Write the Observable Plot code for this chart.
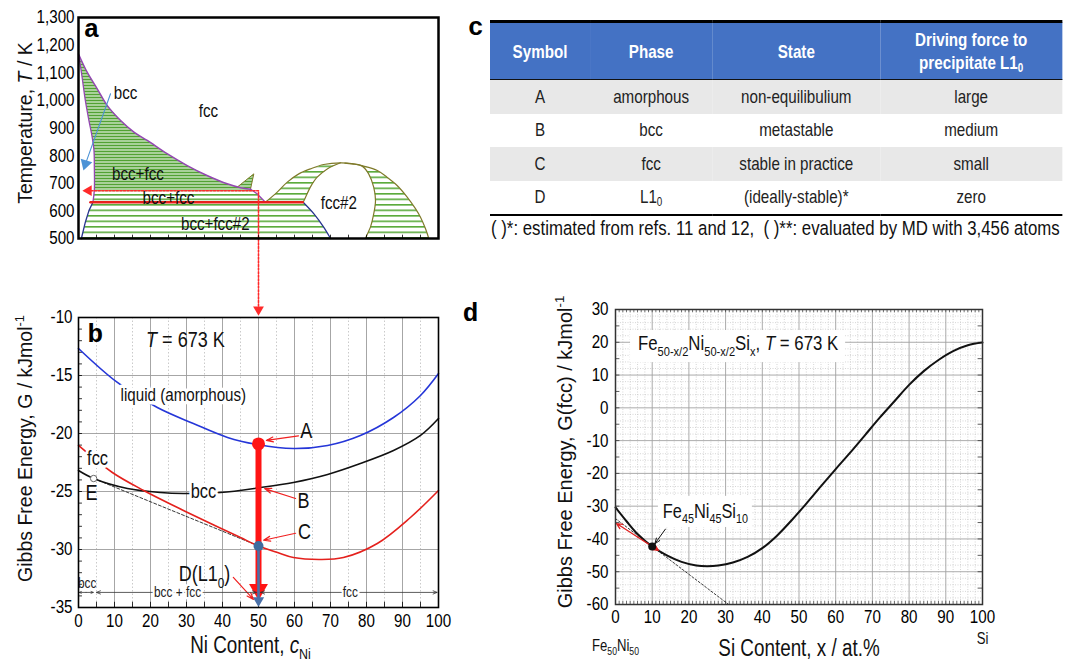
<!DOCTYPE html>
<html><head><meta charset="utf-8">
<script src="https://cdn.jsdelivr.net/npm/d3@7"></script>
<script src="https://cdn.jsdelivr.net/npm/@observablehq/plot@0.6"></script>
<style>
html,body{margin:0;padding:0;background:#fff;}
#fig{position:relative;width:1067px;height:663px;overflow:hidden;background:#fff;}
#fig svg{position:absolute;left:0;top:0;}
.tbl{position:absolute;left:490px;top:20px;width:697.6px;transform:scaleX(0.82);transform-origin:0 0;font-family:'Liberation Sans',Arial,sans-serif;font-size:18.5px;color:#222;}
.tbl table{border-collapse:collapse;width:100%;table-layout:fixed;}
.tbl th{background:#4472c4;color:#fff;font-weight:bold;height:56px;padding:0;line-height:23px;border-top:3px solid #000;border-bottom:1.5px solid #111;}
.tbl td{text-align:center;height:33.5px;padding:0;}
.tbl tr.g td{background:#e8e8e8;}
.tbl tr:last-child td{border-bottom:2.5px solid #000;}
.tbl sub{font-size:65%;vertical-align:-0.25em;line-height:0;}
.note{position:absolute;left:491px;top:216px;white-space:nowrap;transform:scaleX(0.82);transform-origin:0 0;font-family:'Liberation Sans',Arial,sans-serif;font-size:20.5px;line-height:24px;color:#111;}
.lab{position:absolute;font-family:'Liberation Mono','Courier New',monospace;font-weight:bold;font-size:26px;line-height:26px;}
</style></head>
<body><div id="fig"></div>
<script>
const W = 1067, H = 663;
const SANS = "'Liberation Sans',Arial,sans-serif";
const REG = "'Liberation Sans',Arial,sans-serif";
const MONO = "'Liberation Mono','Courier New',monospace";

// ---------------- Panel a: phase diagram  [Ni at.%, T / K] ----------------
const aTempTicks = [500, 600, 700, 800, 900, 1000, 1100, 1200, 1300];
const aBottomTicks = [5,10,15,20,25,30,35,40,45,50,55,60,65,70,75,80,85,90,95];
const aFccBoundary = [[0,1168],[2.4,1102],[5.2,1042],[8,981],[11.7,927],[15.4,885],[19.1,855],[24.6,807],[30.2,764],[35.7,728],[41.3,698],[45,684],[47.8,678]];
const aBccBoundary = [[0.1,1162],[1.0,1084],[1.9,1000],[2.9,927],[3.8,867],[4.3,819],[4.4,758],[4.4,675]];
const aBccLow = [[4.4,675],[4.0,631]];
const aDescent = [[47.8,678],[49.6,662],[51.9,631]];
const aLowerLeft = [[4.0,631],[2.9,601],[1.9,559],[0.8,500]];
const aLowerRight = [[62.4,631],[65.4,589],[68.1,541],[70,500]];
const aArchOuter = [[51.9,631],[55.2,668],[58,704],[61.2,734],[64.4,752],[68.1,768],[72.8,774],[76.5,770],[79.2,762],[83,746],[85.7,722],[88.5,692],[91.3,650],[93.6,608],[95,577],[96.4,535],[97.3,500]];
const aArchInnerLeft = [[72.8,774],[69.1,752],[66.3,722],[64.4,686],[63.1,650],[62.4,631]];
const aArchInnerRight = [[74,773],[76,770],[78.8,762],[80.6,734],[82,686],[82.5,638],[82,589],[81.1,541],[79.7,500]];
const aSpike = [[44.1,686],[48.7,734],[47.8,680]];
const aEutectoid = [[3.3,631],[62.3,631]];
const aIsotherm = [[3.5,673],[50,673],[50,252]];     // T = 673 K, continues down into panel b
const aHeadLeft = [[2.8,673]];
const aHeadDown = [[50,243]];
const aBlueArrow = [[8.9,1024],[1.94,770]];
const aBlueHead = [[1.94,770]];
const aLabels = [
  {x:13.1, y:1028, text:"bcc"},
  {x:36.1, y:960, text:"fcc"},
  {x:16.5, y:735, text:"bcc+fcc"},
  {x:25.0, y:648, text:"bcc+fcc"},
  {x:38.0, y:554, text:"bcc+fcc#2"},
  {x:72.3, y:627, text:"fcc#2"}
];

// ---------------- Panel b: Gibbs energy vs Ni  [Ni at.%, G / kJ mol-1] ----------------
const bXTicks = [0,10,20,30,40,50,60,70,80,90,100];
const bYTicks = [-35,-30,-25,-20,-15,-10];
const bLiquid = [[0,-12.67],[10.8,-15.6],[21.9,-17.76],[31.9,-19.14],[41.4,-20.34],[49.7,-20.95],[59.7,-21.29],[69.2,-21.03],[78.3,-20.17],[87.5,-18.62],[95,-16.72],[100,-14.83]];
const bBcc = [[0,-23.19],[4.2,-23.88],[13.6,-24.74],[22.8,-25.09],[29.2,-25.17],[39.4,-25.09],[50.6,-24.66],[59.7,-24.22],[69.2,-23.53],[78.3,-22.59],[87.5,-21.47],[95,-20.17],[100,-18.71]];
const bFcc = [[0,-21.03],[9.4,-23.36],[18.1,-24.91],[27.5,-26.38],[36.7,-27.76],[45,-28.97],[49.7,-29.66],[55.3,-30.26],[59.7,-30.69],[67.2,-30.86],[73.6,-30.69],[83,-29.48],[92.2,-27.24],[100,-24.91]];
const bTangent = [[4.2,-23.88],[48.5,-29.5]];
const bPointA = [[50,-20.9]];
const bPointC = [[50,-29.7]];
const bPointE = [[4.2,-23.88]];
const bRedBar = [[50,-20.9],[50,-33.2]];
const bRedHead = [[50,-33.45]];
const bBlueBar = [[50,-29.7],[50,-34.2]];
const bBlueHead = [[50,-34.4]];
const bCallouts = [
  {x1:61.1, y1:-20.2, x2:52.2, y2:-20.6},
  {x1:60.3, y1:-25.6, x2:51.7, y2:-24.75},
  {x1:60.3, y1:-28.6, x2:51.4, y2:-29.2},
  {x1:43.0, y1:-32.4, x2:48.6, y2:-34.3}
];
const bCalloutLabels = [
  {x:63.3, y:-19.75, text:"A"},
  {x:62.5, y:-25.85, text:"B"},
  {x:62.8, y:-28.45, text:"C"},
  {x:35.0, y:-32.15, text:"D(L1_{0})"}
];
const bRanges = [
  {x1:2.1, x2:0.2}, {x1:2.1, x2:4.1},
  {x1:27.5, x2:5.0}, {x1:27.5, x2:49.4},
  {x1:75.5, x2:50.6}, {x1:75.5, x2:99.6}
];
const bRangeG = -33.7;
const bRangeLabels = [{x:27.5, text:"bcc + fcc"}, {x:75.5, text:"fcc"}];

// ---------------- Panel d: G(fcc) vs Si  [Si at.%, G / kJ mol-1] ----------------
const dXTicks = [0,10,20,30,40,50,60,70,80,90,100];
const dYTicks = [-60,-50,-40,-30,-20,-10,0,10,20,30];
const dSi = [0,3,6,10,14,18,22,25,28,32,36,40,44,48,52,56,60,64,68,72,76,80,84,88,92,96,100];
const dG  = [-30.4,-34.6,-38.5,-42.3,-45.0,-47.0,-48.1,-48.3,-48.1,-47.2,-45.5,-42.8,-39.0,-34.3,-29.2,-23.9,-18.7,-13.6,-8.3,-3.0,2.0,7.0,11.2,14.6,17.3,19.1,19.9];
const dPoint = [[10,-42.3]];
const dTangentDotted = [[0,-33.8],[30.6,-59.8]];
const dRedArrows = [{x1:6.0, y1:-39.4, x2:0.3, y2:-35.3},{x1:6.0, y1:-39.4, x2:11.7, y2:-43.5}];
const dPointer = [{x1:13.6, y1:-37.0, x2:10.7, y2:-41.5}];

// ---------------- Panel c: table ----------------
const tHeader = ["Symbol", "Phase", "State", "Driving force to<br>precipitate L1<sub>0</sub>"];
const tSymbol = ["A", "B", "C", "D"];
const tPhase = ["amorphous", "bcc", "fcc", "L1<sub>0</sub>"];
const tState = ["non-equilibulium", "metastable", "stable in practice", "(ideally-stable)*"];
const tForce = ["large", "medium", "small", "zero"];
const tNote = "( )*: estimated from refs. 11 and 12,&nbsp; ( )**: evaluated by MD with 3,456 atoms";

// ---------------- helpers ----------------
const NS = "http://www.w3.org/2000/svg";
const P = {x: d => d[0], y: d => d[1]};
const rev = a => a.slice().reverse();
function richify(root) {
  root.querySelectorAll("text").forEach(t => {
    const s = t.textContent;
    if (!/[_^]\{|\*/.test(s)) return;
    const fs = parseFloat(getComputedStyle(t).fontSize) || 16;
    while (t.firstChild) t.removeChild(t.firstChild);
    let italic = false, shift = 0, buf = "", i = 0;
    const add = (str, mode) => {
      if (!str) return;
      const ts = document.createElementNS(NS, "tspan");
      const target = mode === "sub" ? 0.28 * fs : mode === "sup" ? -0.4 * fs : 0;
      if (target !== shift) { ts.setAttribute("dy", target - shift); shift = target; }
      if (mode) ts.setAttribute("font-size", 0.66 * fs);
      if (italic) ts.setAttribute("font-style", "italic");
      ts.textContent = str;
      t.appendChild(ts);
    };
    while (i < s.length) {
      const c = s[i];
      if ((c === "_" || c === "^") && s[i + 1] === "{") {
        add(buf, null); buf = "";
        const j = s.indexOf("}", i);
        add(s.slice(i + 2, j), c === "_" ? "sub" : "sup");
        i = j + 1;
      } else if (c === "*") { add(buf, null); buf = ""; italic = !italic; i++; }
      else { buf += c; i++; }
    }
    add(buf, null);
  });
}
// horizontally condense non-rotated text around its anchor x (the reference figure is squeezed horizontally)
function squeeze(root, k) {
  root.querySelectorAll("svg text").forEach(t => {
    const tr = t.getAttribute("transform") || "";
    const ptr = (t.parentNode.getAttribute && t.parentNode.getAttribute("transform")) || "";
    if ((tr + ptr).includes("rotate")) return;
    if (/Mono/i.test(getComputedStyle(t).fontFamily)) return;
    const xs = t.getAttribute("x") || "0";
    const X = /^-?[\d.]+(px)?$/.test(xs.trim()) ? parseFloat(xs) : 0;
    t.setAttribute("transform", (tr ? tr + " " : "") + "translate(" + X + ",0) scale(" + k + ",1) translate(" + (-X) + ",0)");
  });
}
function addPattern(svg, id, period, band, color) {
  let defs = svg.querySelector("defs");
  if (!defs) { defs = document.createElementNS(NS, "defs"); svg.insertBefore(defs, svg.firstChild); }
  const p = document.createElementNS(NS, "pattern");
  p.setAttribute("id", id); p.setAttribute("patternUnits", "userSpaceOnUse");
  p.setAttribute("width", 12); p.setAttribute("height", period);
  const r0 = document.createElementNS(NS, "rect");
  r0.setAttribute("width", 12); r0.setAttribute("height", period); r0.setAttribute("fill", "#fff");
  const r1 = document.createElementNS(NS, "rect");
  r1.setAttribute("width", 12); r1.setAttribute("height", band); r1.setAttribute("fill", color);
  p.appendChild(r0); p.appendChild(r1); defs.appendChild(p);
}
const baseStyle = {background: "transparent", fontFamily: SANS, fontSize: "18px", overflow: "visible", color: "#000"};
const fig = document.getElementById("fig");
const yTitle = {frameAnchor: "left", rotate: -90, textAnchor: "middle", lineAnchor: "middle", fontFamily: REG, fill: "#111"};
const xTitle = {frameAnchor: "bottom", textAnchor: "middle", lineAnchor: "middle", fill: "#111"};

// ---------------- Panel a ----------------
const purple = "#9447b3", navy = "#27348f", olive = "#7f7a2a", red = "#e8201c";
const polyUpper = [...aFccBoundary, [47.8, 675], ...rev(aBccBoundary)];
const polyMiddle = [[4.4, 675], [47.8, 675], ...aDescent.slice(1), [4.0, 631]];
const polyLower = [[4.0, 631], [62.4, 631], ...aLowerRight.slice(1), ...rev(aLowerLeft)];
const polyCrescent = [...aArchOuter.slice(0, 7), ...aArchInnerLeft.slice(1)];
const polyRight = [...aArchOuter.slice(6), ...rev(aArchInnerRight)];

const plotA = Plot.plot({
  width: W, height: H,
  marginLeft: 78, marginRight: W - 438, marginTop: 17, marginBottom: H - 238,
  x: {domain: [0, 100], axis: null},
  y: {domain: [500, 1300]},
  style: baseStyle,
  marks: [
    Plot.line(polyUpper, {...P, fill: "url(#hatchDense)", stroke: "none"}),
    Plot.line(polyMiddle, {...P, fill: "url(#hatchMid)", stroke: "none"}),
    Plot.line(polyLower, {...P, fill: "url(#hatchLow)", stroke: "none"}),
    Plot.line(polyCrescent, {...P, fill: "url(#hatchLow)", stroke: "none"}),
    Plot.line(polyRight, {...P, fill: "url(#hatchLow)", stroke: "none"}),
    Plot.line(aSpike, {...P, fill: "url(#hatchDense)", stroke: olive, strokeWidth: 1}),
    Plot.line(aFccBoundary, {...P, stroke: purple, strokeWidth: 1.5, curve: "catmull-rom"}),
    Plot.line([...aBccBoundary, ...aBccLow.slice(1)], {...P, stroke: purple, strokeWidth: 1.3, curve: "catmull-rom"}),
    Plot.line(aDescent, {...P, stroke: purple, strokeWidth: 1.3}),
    Plot.line(aLowerLeft, {...P, stroke: navy, strokeWidth: 1.3}),
    Plot.line(aLowerRight, {...P, stroke: navy, strokeWidth: 1.3, curve: "catmull-rom"}),
    Plot.line(aArchOuter, {...P, stroke: olive, strokeWidth: 1.2, curve: "catmull-rom"}),
    Plot.line(aArchInnerLeft, {...P, stroke: olive, strokeWidth: 1.2, curve: "catmull-rom"}),
    Plot.line(aArchInnerRight, {...P, stroke: olive, strokeWidth: 1.2, curve: "catmull-rom"}),
    Plot.line(aEutectoid, {...P, stroke: red, strokeWidth: 2.4}),
    Plot.line(aIsotherm, {...P, stroke: "#ff2a2a", strokeWidth: 1.6, strokeDasharray: "2,1.6"}),
    Plot.dot(aHeadLeft, {...P, symbol: "triangle", r: 4, fill: "#ff2a2a", rotate: -90}),
    Plot.dot(aHeadDown, {...P, symbol: "triangle", r: 4, fill: "#ff2a2a", rotate: 180}),
    Plot.line(aBlueArrow, {...P, stroke: "#4d93d6", strokeWidth: 1.1}),
    Plot.dot(aBlueHead, {...P, symbol: "triangle", r: 4.5, fill: "#4d93d6", rotate: 197}),
    Plot.text(aLabels, {x: "x", y: "y", text: "text", fontSize: 18.5, fill: "#111"}),
    Plot.ruleX(aBottomTicks, {x: d => d, y1: 500, y2: 512, stroke: "#000", strokeWidth: 0.8}),
    Plot.text(["a"], {x: 3.6, y: 1260, fontFamily: MONO, fontWeight: "bold", fontSize: 26}),
    Plot.axisY({ticks: aTempTicks, tickFormat: d3.format(","), tickSize: 0, tickPadding: 4, fontSize: 18.5, label: null}),
    Plot.text(["Temperature, *T* / K"], {...yTitle, dx: -53, dy: -5, fontSize: 19.5}),
    Plot.frame({stroke: "#000", strokeWidth: 2.5})
  ]
});
addPattern(plotA, "hatchDense", 3, 2, "#52a233");
addPattern(plotA, "hatchMid", 4.5, 1.6, "#5aaa3a");
addPattern(plotA, "hatchLow", 5.5, 1.6, "#5aaa3a");
fig.appendChild(plotA);

// ---------------- Panel b ----------------
const blue = "#2536d8", redB = "#e4211d";
const plotB = Plot.plot({
  width: W, height: H,
  marginLeft: 78, marginRight: W - 438, marginTop: 317, marginBottom: H - 607,
  x: {domain: [0, 100]},
  y: {domain: [-35, -10]},
  style: baseStyle,
  marks: [
    Plot.ruleX(d3.range(5, 100, 10), {x: d => d, stroke: "#bdbdbd", strokeWidth: 0.8, strokeDasharray: "1.5,2"}),
    Plot.ruleX(bXTicks.slice(1, -1), {x: d => d, stroke: "#9c9c9c", strokeWidth: 0.9}),
    Plot.ruleY(bYTicks.slice(1, -1), {y: d => d, stroke: "#9c9c9c", strokeWidth: 0.9}),
    Plot.ruleY(d3.range(-34, -10, 1), {y: d => d, x1: 0, x2: 1.1, stroke: "#000", strokeWidth: 0.8}),
    Plot.ruleX(d3.range(5, 100, 5), {x: d => d, y1: -35, y2: -34.55, stroke: "#000", strokeWidth: 0.8}),
    Plot.line(bTangent, {...P, stroke: "#222", strokeWidth: 0.9, strokeDasharray: "3,2"}),
    Plot.line(bLiquid, {...P, stroke: blue, strokeWidth: 1.6, curve: "catmull-rom"}),
    Plot.line(bBcc, {...P, stroke: "#111", strokeWidth: 1.6, curve: "catmull-rom"}),
    Plot.line(bFcc, {...P, stroke: redB, strokeWidth: 1.6, curve: "catmull-rom"}),
    Plot.text(["liquid (amorphous)"], {x: 11.7, y: -16.72, textAnchor: "start", fontSize: 18.5, stroke: "#fff", strokeWidth: 7, paintOrder: "stroke", fill: "#111"}),
    Plot.text(["bcc"], {x: 34.7, y: -25.0, fontSize: 20, stroke: "#fff", strokeWidth: 6, paintOrder: "stroke", fill: "#111"}),
    Plot.text(["fcc"], {x: 5.3, y: -22.2, fontSize: 20, stroke: "#fff", strokeWidth: 6, paintOrder: "stroke", fill: "#111"}),
    Plot.dot(bPointE, {...P, r: 3.2, fill: "#fff", stroke: "#666", strokeWidth: 1}),
    Plot.text(["E"], {x: 3.6, y: -25.15, fontSize: 22, fill: "#111"}),
    Plot.line(bRedBar, {...P, stroke: "#ff1414", strokeWidth: 6}),
    Plot.dot(bRedHead, {...P, symbol: "triangle", r: 7, fill: "#ff1414", rotate: 180}),
    Plot.line(bBlueBar, {...P, stroke: "#4a70a8", strokeWidth: 2.6}),
    Plot.dot(bBlueHead, {...P, symbol: "triangle", r: 4.2, fill: "#4a70a8", rotate: 180}),
    Plot.dot(bPointA, {...P, r: 6.5, fill: "#ff1414"}),
    Plot.dot(bPointC, {...P, r: 5, fill: "#3f6c9f"}),
    Plot.arrow(bCallouts, {x1: "x1", y1: "y1", x2: "x2", y2: "y2", stroke: "#f02020", strokeWidth: 1.2, headLength: 9, headAngle: 40}),
    Plot.text(bCalloutLabels, {x: "x", y: "y", text: "text", fontSize: 22, fill: "#111"}),
    Plot.arrow(bRanges, {x1: "x1", x2: "x2", y1: bRangeG, y2: bRangeG, stroke: "#333", strokeWidth: 0.8, headLength: 8, headAngle: 45}),
    Plot.text(bRangeLabels, {x: "x", y: bRangeG, text: "text", fontSize: 14.5, stroke: "#fff", strokeWidth: 5, paintOrder: "stroke", fill: "#222"}),
    Plot.text(["bcc"], {x: 2.4, y: -32.9, fontSize: 14.5, fill: "#222"}),
    Plot.text(["*T* = 673 K"], {x: 29.7, y: -11.9, fontSize: 22, fill: "#111"}),
    Plot.text(["b"], {x: 4.7, y: -11.4, fontFamily: MONO, fontWeight: "bold", fontSize: 26}),
    Plot.axisX({ticks: bXTicks, tickFormat: d => String(d), tickSize: 0, tickPadding: 6, fontSize: 18.5, label: null}),
    Plot.axisY({ticks: bYTicks, tickFormat: d => String(d), tickSize: 0, tickPadding: 6, fontSize: 18.5, label: null}),
    Plot.text(["Gibbs Free Energy, G / kJmol^{-1}"], {...yTitle, dx: -53, dy: -14, fontSize: 19.5}),
    Plot.text(["Ni Content, *c*_{Ni}"], {...xTitle, dx: -8, dy: 38, fontSize: 23}),
    Plot.frame({stroke: "#000", strokeWidth: 1.6})
  ]
});
fig.appendChild(plotB);

// ---------------- Panel d ----------------
const dCurve = dSi.map((s, i) => [s, dG[i]]);
const plotD = Plot.plot({
  width: W, height: H,
  marginLeft: 615, marginRight: W - 982, marginTop: 309, marginBottom: H - 604,
  x: {domain: [0, 100]},
  y: {domain: [-60, 30]},
  style: baseStyle,
  marks: [
    Plot.ruleX(d3.range(2, 100, 2).filter(v => v % 10), {x: d => d, stroke: "#c4c4c4", strokeWidth: 0.7, strokeDasharray: "1,1.5"}),
    Plot.ruleY(d3.range(-58, 30, 2).filter(v => v % 10), {y: d => d, stroke: "#c4c4c4", strokeWidth: 0.7, strokeDasharray: "1,1.5"}),
    Plot.ruleX(dXTicks.slice(1, -1), {x: d => d, stroke: "#a2a2a2", strokeWidth: 0.9}),
    Plot.ruleY(dYTicks.slice(1, -1), {y: d => d, stroke: "#a2a2a2", strokeWidth: 0.9}),
    Plot.ruleX(d3.range(1, 100, 1), {x: d => d, y1: -60, y2: -59, stroke: "#333", strokeWidth: 0.7}),
    Plot.ruleX(d3.range(1, 100, 1), {x: d => d, y1: 30, y2: 29, stroke: "#333", strokeWidth: 0.7}),
    Plot.ruleY(d3.range(-55, 30, 5), {y: d => d, x1: 0, x2: 1.2, stroke: "#333", strokeWidth: 0.8}),
    Plot.ruleY(d3.range(-55, 30, 5), {y: d => d, x1: 98.8, x2: 100, stroke: "#333", strokeWidth: 0.8}),
    Plot.line(dTangentDotted, {...P, stroke: "#222", strokeWidth: 0.9, strokeDasharray: "2,2"}),
    Plot.line(dCurve, {...P, stroke: "#111", strokeWidth: 2, curve: "catmull-rom"}),
    Plot.arrow(dRedArrows, {x1: "x1", y1: "y1", x2: "x2", y2: "y2", stroke: "#e02020", strokeWidth: 1.3, headLength: 7, headAngle: 50}),
    Plot.dot(dPoint, {...P, r: 4, fill: "#111"}),
    Plot.rect([{x1: 4.1, x2: 62.7, y1: 13.8, y2: 23.6}], {x1: "x1", x2: "x2", y1: "y1", y2: "y2", fill: "#fff"}),
    Plot.text(["Fe_{50-x/2}Ni_{50-x/2}Si_{x}, *T* = 673 K"], {x: 33.4, y: 19.5, fontSize: 20.5, fill: "#111"}),
    Plot.rect([{x1: 11.7, x2: 37.3, y1: -36.5, y2: -27.0}], {x1: "x1", x2: "x2", y1: "y1", y2: "y2", fill: "#fff"}),
    Plot.text(["Fe_{45}Ni_{45}Si_{10}"], {x: 24.5, y: -31.6, fontSize: 20, fill: "#111"}),
    Plot.arrow(dPointer, {x1: "x1", y1: "y1", x2: "x2", y2: "y2", stroke: "#111", strokeWidth: 1, headLength: 9, headAngle: 40}),
    Plot.axisX({ticks: dXTicks, tickFormat: d => String(d), tickSize: 0, tickPadding: 5, fontSize: 18.5, label: null}),
    Plot.axisY({ticks: dYTicks, tickFormat: d => String(d), tickSize: 0, tickPadding: 7, fontSize: 18.5, label: null}),
    Plot.text(["Fe_{50}Ni_{50}"], {...xTitle, x: [0], dy: 41, fontSize: 16}),
    Plot.text(["Si"], {...xTitle, x: [100], dy: 34, fontSize: 16}),
    Plot.text(["Gibbs Free Energy, G(fcc) / kJmol^{-1}"], {...yTitle, dx: -50, dy: -5, fontSize: 20}),
    Plot.text(["Si Content, x / at.%"], {...xTitle, dy: 44, fontSize: 23}),
    Plot.text(["d"], {x: -39.5, y: 29.0, fontFamily: MONO, fontWeight: "bold", fontSize: 26}),
    Plot.frame({stroke: "#333", strokeWidth: 1.5})
  ]
});
fig.appendChild(plotD);

// ---------------- Panel c (table) ----------------
const tbl = document.createElement("div");
tbl.className = "tbl";
let html = '<table><colgroup><col style="width:122px"><col style="width:149px"><col style="width:205px"><col style="width:221.6px"></colgroup><thead><tr>';
tHeader.forEach(h => { html += "<th>" + h + "</th>"; });
html += "</tr></thead><tbody>";
tSymbol.forEach((s, i) => {
  html += '<tr class="' + (i % 2 === 0 ? "g" : "") + '"><td>' + s + "</td><td>" + tPhase[i] + "</td><td>" + tState[i] + "</td><td>" + tForce[i] + "</td></tr>";
});
html += "</tbody></table>";
tbl.innerHTML = html;
fig.appendChild(tbl);
const note = document.createElement("div");
note.className = "note"; note.innerHTML = tNote; fig.appendChild(note);
const cLab = document.createElement("div");
cLab.className = "lab"; cLab.style.left = "468px"; cLab.style.top = "15px"; cLab.textContent = "c";
fig.appendChild(cLab);

richify(fig);
squeeze(fig, 0.82);
</script>
</body></html>
